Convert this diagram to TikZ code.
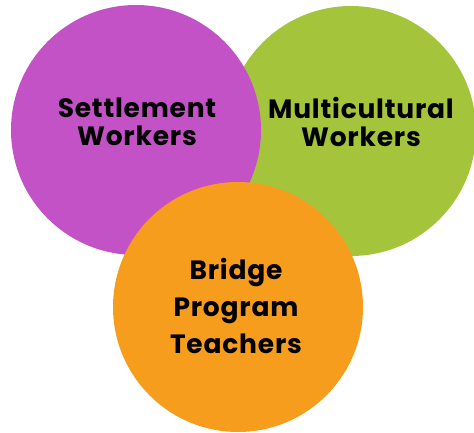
\documentclass[tikz,border=0pt]{standalone}
\usepackage{fontspec}
\setmainfont[LetterSpace=3]{Poppins}
\usetikzlibrary{positioning}
\definecolor{settlepurple}{RGB}{195,82,198}
\definecolor{multigreen}{RGB}{164,196,60}
\definecolor{bridgeorange}{RGB}{246,157,29}
\tikzset{
	bubble/.style={circle, minimum size=250pt, inner sep=0pt, draw=none},
	bubbletext/.style={align=center, text=black, font=\bfseries\fontsize{26.5}{28}\selectfont}
}

\begin{document}
\begin{tikzpicture}[x=1pt, y=-1pt]
	\useasboundingbox (0,0) rectangle (474,433);
	% circles, back to front
	\node[bubble, fill=multigreen] (multi) at (351,131) {};
	\node[bubble, fill=settlepurple] (settle) at (136,130) {};
	\node[bubble, fill=bridgeorange] (bridge) at (238,307) {};
	% labels
	\node[bubbletext] (settletext) at (137,122) {Settlement\\Workers};
	\node[bubbletext] (multitext) at (361,122) {Multicultural\\Workers};
	\node[bubbletext, font=\bfseries\fontsize{26.5}{37}\selectfont] (bridgetext) at (236,306) {Bridge\\Program\\Teachers};
\end{tikzpicture}
\end{document}
